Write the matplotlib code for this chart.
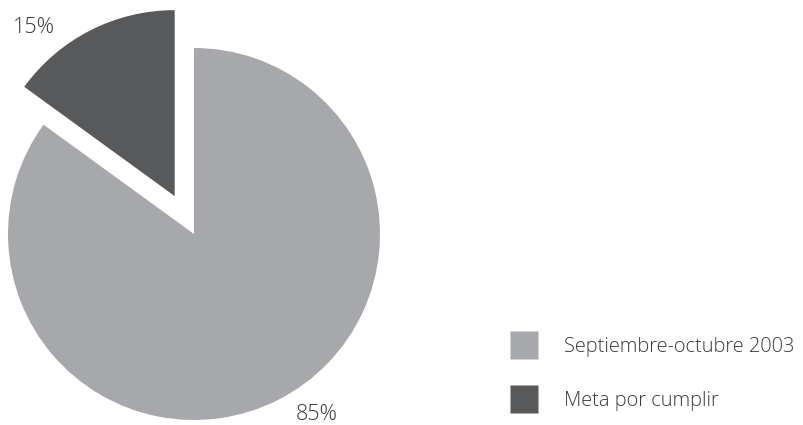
import matplotlib.pyplot as plt
from matplotlib.lines import Line2D

FIG_DPI = 100

categories = ["Septiembre-octubre 2003", "Meta por cumplir"]
shares = [85, 15]
share_labels = ["85%", "15%"]
colors = ["#a7a8ab", "#58595b"]

plt.rcParams["font.family"] = ["Open Sans", "DejaVu Sans"]
plt.rcParams["font.weight"] = "light"

fig = plt.figure(figsize=(8.04, 4.25), dpi=FIG_DPI)
ax = fig.add_axes([0, 0, 1, 1])

# explode is in data units here (pixels), not fractions of the radius
wedges, _ = ax.pie(
    shares,
    colors=colors,
    startangle=90,
    counterclock=False,
    explode=[0, 42.5],
    center=(194, 191),
    radius=186,
    frame=True,
)
ax.set_xlim(0, 804)
ax.set_ylim(0, 425)
ax.set_aspect("equal")
ax.axis("off")

# percentage labels
text_color = "#3a3a3a"
ax.text(316.5, 5, share_labels[0], ha="center", va="baseline", fontsize=15.5, color=text_color)
ax.text(34, 392, share_labels[1], ha="center", va="baseline", fontsize=15.5, color=text_color)

handles = [
    Line2D([], [], linestyle="none", marker="s", markersize=19.44,
           markerfacecolor=c, markeredgecolor="none")
    for c in colors
]
leg = ax.legend(
    handles,
    categories,
    loc="upper left",
    bbox_to_anchor=(510, 88),
    bbox_transform=ax.transData,
    frameon=False,
    fontsize=14.4,
    numpoints=1,
    handlelength=1.35,
    handletextpad=1.35,
    labelspacing=1.7,
    borderpad=0,
    borderaxespad=0,
)
for t in leg.get_texts():
    t.set_color(text_color)

fig.savefig("out.png", dpi=FIG_DPI)
